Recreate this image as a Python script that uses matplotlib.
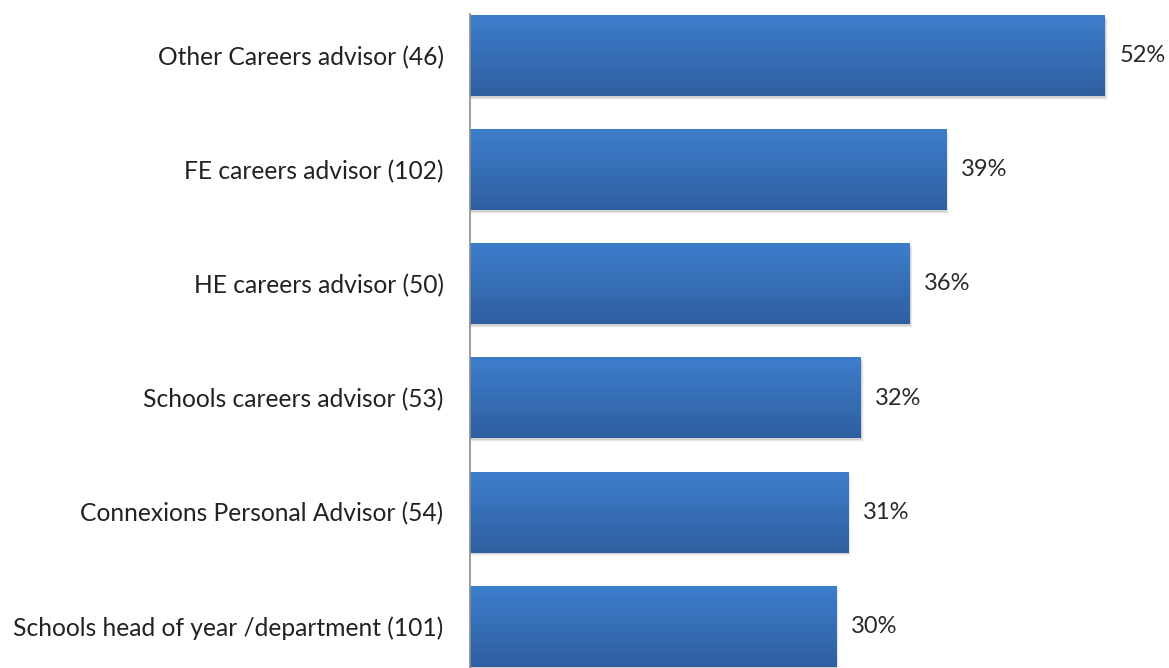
import matplotlib.pyplot as plt
import numpy as np
from matplotlib.patches import Rectangle

categories = [
    "Other Careers advisor (46)",
    "FE careers advisor (102)",
    "HE careers advisor (50)",
    "Schools careers advisor (53)",
    "Connexions Personal Advisor (54)",
    "Schools head of year /department (101)",
]
values = [52, 39, 36, 32, 31, 30]
value_labels = ["52%", "39%", "36%", "32%", "31%", "30%"]

plt.rcParams["font.family"] = ["Lato", "DejaVu Sans"]

fig = plt.figure(figsize=(11.69, 6.68), dpi=100)
ax = fig.add_axes([470 / 1169, 0, 1 - 470 / 1169, 1 - 14 / 668])

bar_h = 0.71
y = np.arange(len(categories))

# vertical gradient for the bar fill, light blue at top to darker at bottom
grad = np.linspace(0, 1, 256).reshape(-1, 1)
top_c = np.array([0x3d, 0x7e, 0xcc]) / 255
bot_c = np.array([0x2f, 0x5f, 0xa0]) / 255
grad_img = top_c + (bot_c - top_c) * grad[..., None]

for yi, v, lab in zip(y, values, value_labels):
    # soft drop shadow under each bar
    for k, a in enumerate([0.10, 0.06, 0.03]):
        ax.add_patch(Rectangle((0, yi - bar_h / 2 + 0.01 * (k + 1)), v + 0.08 * (k + 1), bar_h,
                               facecolor="black", alpha=a, edgecolor="none", zorder=1))
    ax.imshow(grad_img, extent=(0, v, yi + bar_h / 2, yi - bar_h / 2),
              aspect="auto", interpolation="bilinear", zorder=2)
    ax.text(v + 1.2, yi, lab, va="center", ha="left", fontsize=17, color="#2a2a2a")

ax.set_xlim(0, 699 / 12.21)
ax.set_ylim(len(categories) - 1 + 0.368, -0.368)
ax.set_yticks(y)
ax.set_yticklabels(categories, fontsize=17.7, color="#222222")
ax.tick_params(axis="y", length=0, pad=19)
ax.set_xticks([])
for s in ["top", "right", "bottom"]:
    ax.spines[s].set_visible(False)
ax.spines["left"].set_color("#8c8c8c")
ax.spines["left"].set_linewidth(1.2)
ax.spines["left"].set_zorder(5)

fig.savefig("out.png", dpi=100)
